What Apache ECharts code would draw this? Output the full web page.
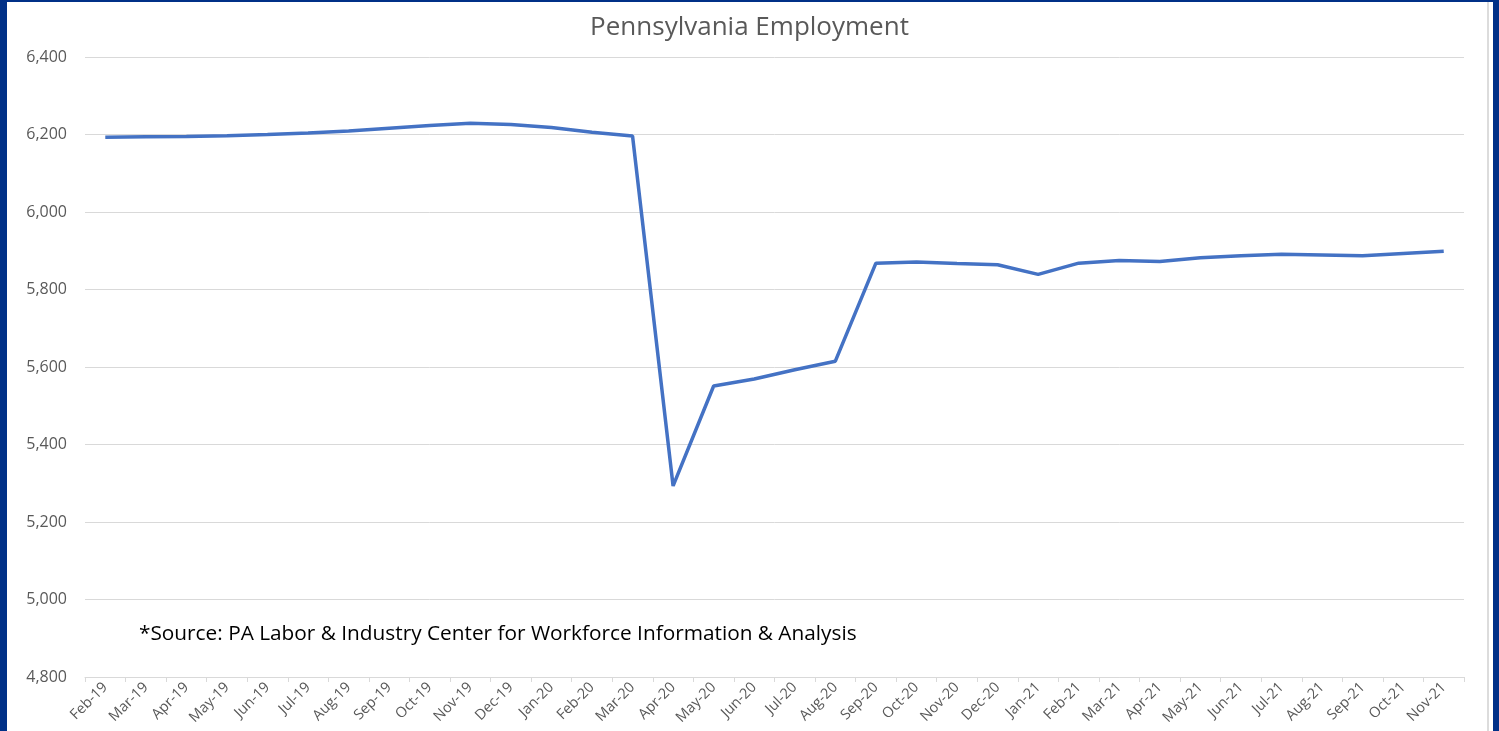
<!DOCTYPE html>
<html>
<head>
<meta charset="utf-8">
<script src="https://cdn.jsdelivr.net/npm/echarts@6/dist/echarts.min.js"></script>
<style>
  html, body { margin: 0; padding: 0; background: #ffffff; }
  #chart { position: absolute; left: 0; top: 0; width: 1499px; height: 731px; }
  .b { position: absolute; background: #003087; }
</style>
</head>
<body>
<div id="chart"></div>
<div class="b" style="left:0;top:0;width:7px;height:731px;"></div>
<div class="b" style="left:0;top:0;width:1499px;height:2px;"></div>
<div class="b" style="left:1493px;top:0;width:6px;height:731px;"></div>
<div style="position:absolute;left:1487px;top:2px;width:2px;height:729px;background:#dcdcdc;"></div>
<script>
const categories = ["Feb-19","Mar-19","Apr-19","May-19","Jun-19","Jul-19","Aug-19","Sep-19","Oct-19","Nov-19","Dec-19","Jan-20","Feb-20","Mar-20","Apr-20","May-20","Jun-20","Jul-20","Aug-20","Sep-20","Oct-20","Nov-20","Dec-20","Jan-21","Feb-21","Mar-21","Apr-21","May-21","Jun-21","Jul-21","Aug-21","Sep-21","Oct-21","Nov-21"];
const employment = [6193,6194,6195,6197,6200,6204,6209,6216,6223,6229,6226,6218,6206,6196,5293,5551,5569,5593,5615,5868,5871,5867,5864,5839,5868,5875,5872,5882,5887,5891,5889,5887,5893,5899];
const yTicks = { min: 4800, max: 6400, interval: 200 };
const titleText = "Pennsylvania Employment";
const sourceText = "*Source: PA Labor & Industry Center for Workforce Information & Analysis";

const chart = echarts.init(document.getElementById('chart'), null, { renderer: 'canvas' });
chart.setOption({
  animation: false,
  backgroundColor: '#ffffff',
  title: {
    text: titleText,
    left: 'center',
    top: 10,
    textStyle: { fontFamily: 'Open Sans', fontSize: 26, fontWeight: 'normal', color: '#595959' }
  },
  grid: { left: 85, right: 35, top: 57, bottom: 54, containLabel: false },
  xAxis: {
    type: 'category',
    data: categories,
    boundaryGap: true,
    axisLine: { show: true, lineStyle: { color: '#d9d9d9', width: 1 } },
    axisTick: { show: true, alignWithLabel: false, length: 5, lineStyle: { color: '#d9d9d9' } },
    axisLabel: { interval: 0, rotate: 45, margin: 8, fontFamily: 'Open Sans', fontSize: 14.5, color: '#595959' }
  },
  yAxis: {
    type: 'value',
    min: yTicks.min, max: yTicks.max, interval: yTicks.interval,
    axisLine: { show: false },
    axisTick: { show: false },
    splitLine: { lineStyle: { color: '#d9d9d9', width: 1 } },
    axisLabel: {
      margin: 18, fontFamily: 'Open Sans', fontSize: 16, color: '#595959',
      formatter: v => v.toLocaleString('en-US')
    }
  },
  series: [{
    type: 'line',
    data: employment,
    symbol: 'none',
    lineStyle: { color: '#4472C4', width: 3.5 },
    itemStyle: { color: '#4472C4' }
  }],
  graphic: [{
    type: 'text',
    left: 139,
    top: 624,
    style: { text: sourceText, fontFamily: 'Open Sans', fontSize: 20.8, fill: '#000000' }
  }]
});
</script>
</body>
</html>
